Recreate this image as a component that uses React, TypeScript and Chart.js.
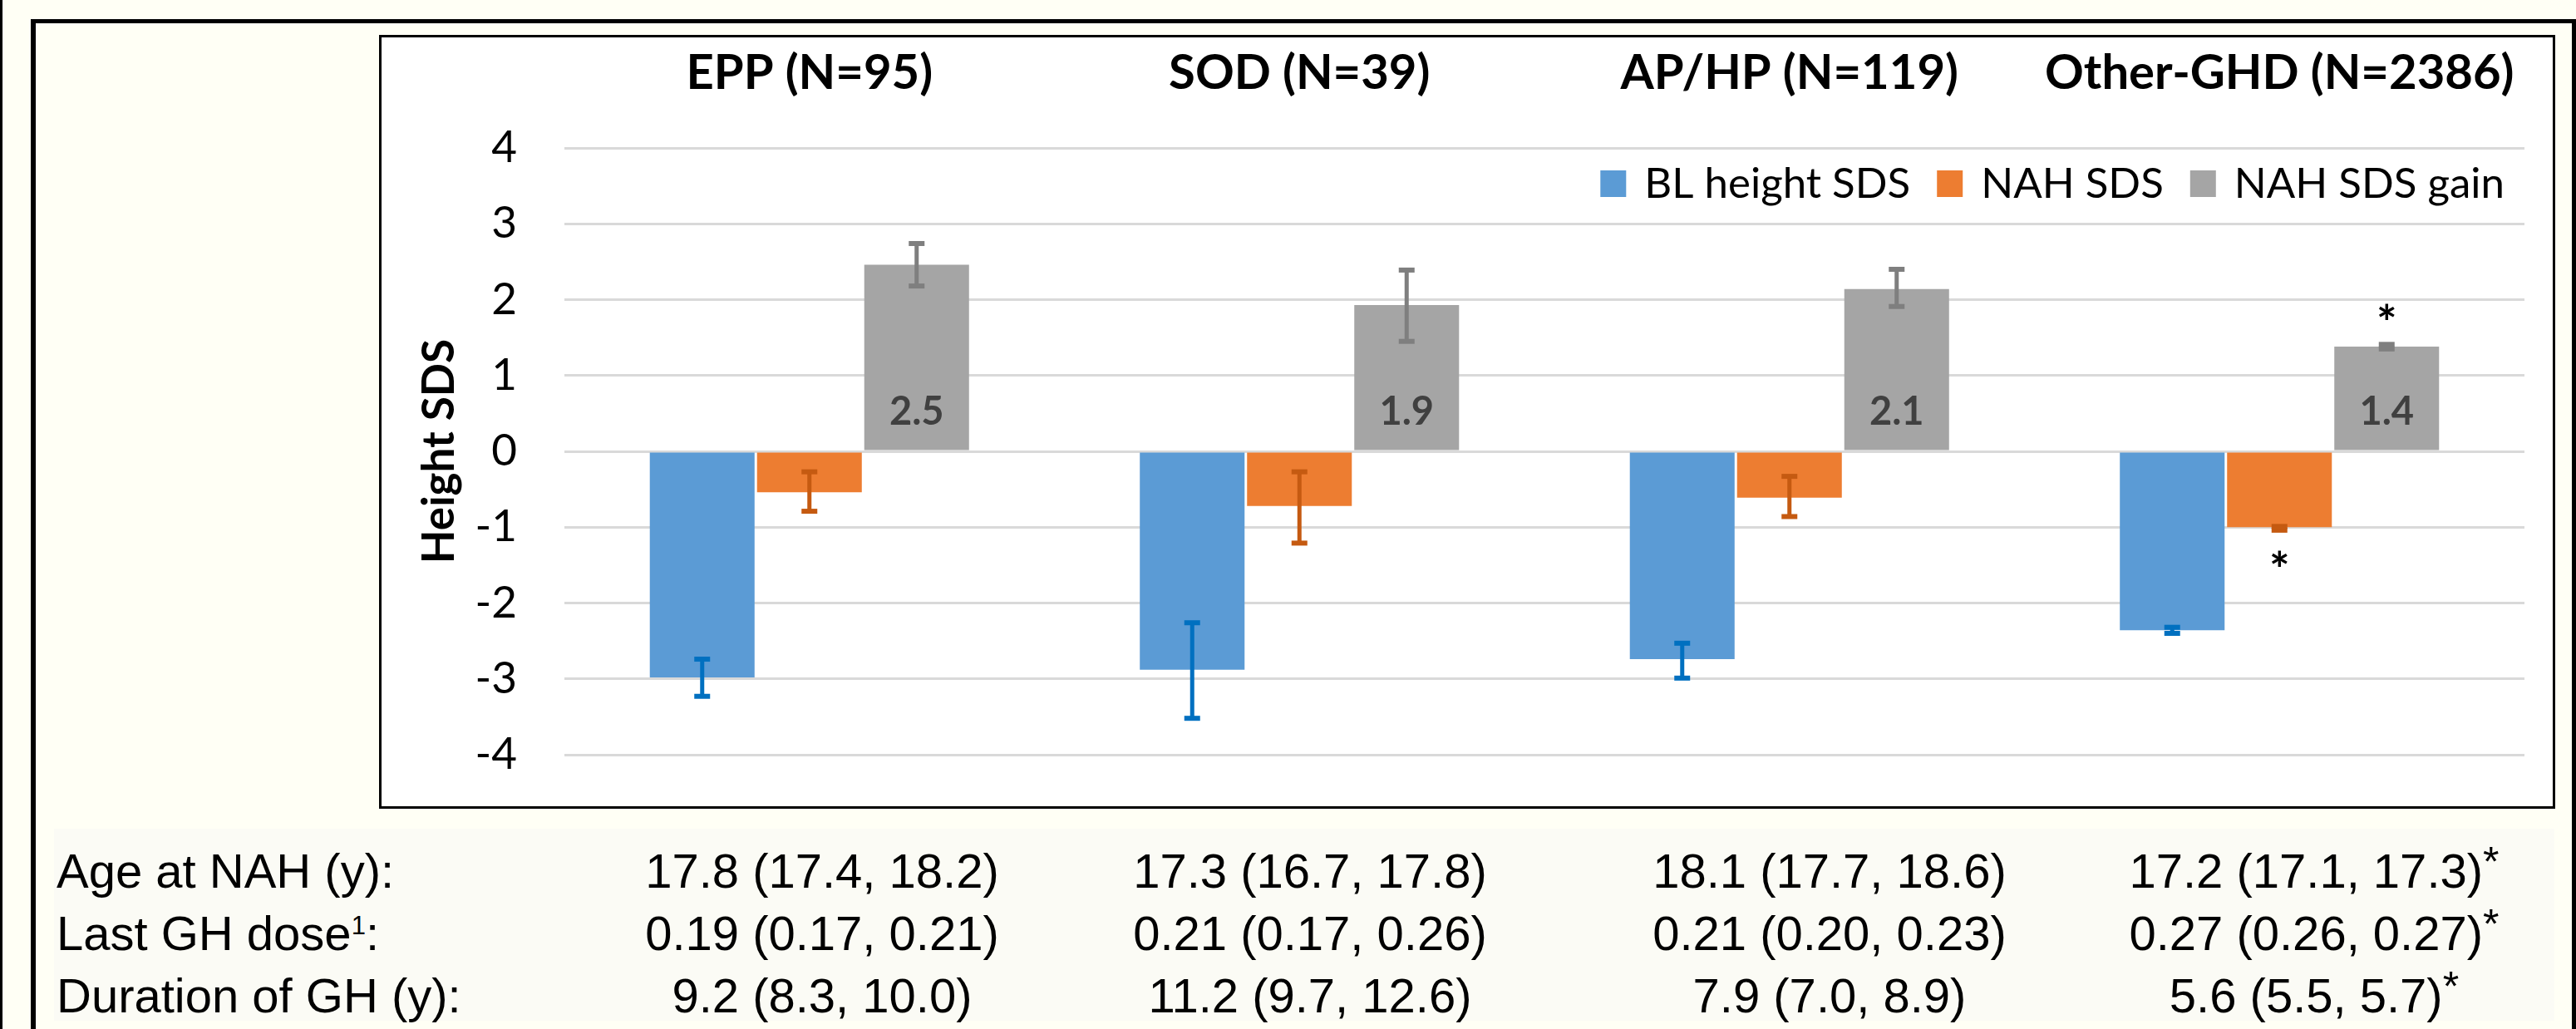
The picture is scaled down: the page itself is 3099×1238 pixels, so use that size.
import React, { useEffect, useRef } from 'react';
import { Chart, registerables } from 'chart.js';

Chart.register(...registerables);

// ---------- data ----------
const categories = ['EPP (N=95)', 'SOD (N=39)', 'AP/HP (N=119)', 'Other-GHD (N=2386)'];

const seriesLabels = ['BL height SDS', 'NAH SDS', 'NAH SDS gain'];

const blValues = [-2.98, -2.88, -2.74, -2.36];
const blLow = [-3.23, -3.52, -2.99, -2.40];
const blHigh = [-2.74, -2.26, -2.53, -2.32];

const nahValues = [-0.54, -0.72, -0.61, -1.0];
const nahLow = [-0.79, -1.21, -0.86, -1.04];
const nahHigh = [-0.27, -0.27, -0.33, -0.99];

const gainValues = [2.46, 1.93, 2.14, 1.38];
const gainLow = [2.18, 1.45, 1.91, 1.35];
const gainHigh = [2.74, 2.39, 2.4, 1.41];
const gainLabels = ['2.5', '1.9', '2.1', '1.4'];

// significance markers: dataset index, category index, side
const sigDataset = [2, 1];
const sigIndex = [3, 3];
const sigSide = ['above', 'below'];

const yTicksMin = -4;
const yTicksMax = 4;
const yTickStep = 1;

const tableRowLabels = ['Age at NAH (y)', 'Last GH dose', 'Duration of GH (y)'];
const tableRowSup = ['', '1', ''];
const ageValues = ['17.8 (17.4, 18.2)', '17.3 (16.7, 17.8)', '18.1 (17.7, 18.6)', '17.2 (17.1, 17.3)'];
const doseValues = ['0.19 (0.17, 0.21)', '0.21 (0.17, 0.26)', '0.21 (0.20, 0.23)', '0.27 (0.26, 0.27)'];
const durationValues = ['9.2 (8.3, 10.0)', '11.2 (9.7, 12.6)', '7.9 (7.0, 8.9)', '5.6 (5.5, 5.7)'];
const tableSignificant = [false, false, false, true];

// ---------- styles ----------
const barColors = ['#5B9BD5', '#ED7D31', '#A5A5A5'];
const errColors = ['#0070C0', '#C55A11', '#7F7F7F'];
const CREAM = '#FFFFF5';
const LATO = 'Lato, "Open Sans", sans-serif';

const errLows = [blLow, nahLow, gainLow];
const errHighs = [blHigh, nahHigh, gainHigh];

const titlePlugin = {
  id: 'groupTitles',
  afterDraw(chart: any) {
    const ctx = chart.ctx;
    const xs = chart.scales.x;
    ctx.save();
    ctx.font = `bold 58px ${LATO}`;
    ctx.fillStyle = '#000';
    ctx.textAlign = 'center';
    ctx.textBaseline = 'alphabetic';
    categories.forEach((c, i) => {
      ctx.fillText(c, xs.getPixelForValue(i), chart.chartArea.top - 71);
    });
    ctx.restore();
  },
};

const legendPlugin = {
  id: 'customLegend',
  afterDraw(chart: any) {
    const ctx = chart.ctx;
    const area = chart.chartArea;
    ctx.save();
    ctx.font = `51px ${LATO}`;
    ctx.textBaseline = 'alphabetic';
    ctx.textAlign = 'left';
    let xEnd = area.right - 24;
    const baseline = area.top + 60;
    const boxTop = area.top + 27;
    const dsets = [...chart.data.datasets].reverse();
    for (const ds of dsets) {
      const w = ctx.measureText(ds.label).width;
      const tx = xEnd - w;
      ctx.fillStyle = '#000';
      ctx.fillText(ds.label, tx, baseline);
      const bx = tx - 22 - 31;
      ctx.fillStyle = ds.backgroundColor;
      ctx.fillRect(bx, boxTop, 31, 32);
      xEnd = bx - 32;
    }
    ctx.restore();
  },
};

const errorBarPlugin = {
  id: 'errorBars',
  afterDatasetsDraw(chart: any) {
    const ctx = chart.ctx;
    const ys = chart.scales.y;
    ctx.save();
    chart.data.datasets.forEach((ds: any, di: number) => {
      const meta = chart.getDatasetMeta(di);
      meta.data.forEach((bar: any, i: number) => {
        const x = bar.x;
        const yLo = ys.getPixelForValue(errLows[di][i]);
        const yHi = ys.getPixelForValue(errHighs[di][i]);
        ctx.strokeStyle = errColors[di];
        ctx.fillStyle = errColors[di];
        ctx.lineWidth = 5;
        ctx.beginPath();
        ctx.moveTo(x, yLo);
        ctx.lineTo(x, yHi);
        ctx.stroke();
        ctx.fillRect(x - 9.5, yLo - 3, 19, 6);
        ctx.fillRect(x - 9.5, yHi - 3, 19, 6);
      });
    });
    ctx.restore();
  },
};

const labelPlugin = {
  id: 'gainLabels',
  afterDatasetsDraw(chart: any) {
    const ctx = chart.ctx;
    const ys = chart.scales.y;
    const zero = ys.getPixelForValue(0);
    const meta = chart.getDatasetMeta(2);
    ctx.save();
    ctx.font = `bold 47px ${LATO}`;
    ctx.fillStyle = '#404040';
    ctx.textAlign = 'center';
    ctx.textBaseline = 'alphabetic';
    meta.data.forEach((bar: any, i: number) => {
      ctx.fillText(gainLabels[i], bar.x, zero - 32);
    });
    // significance asterisks
    ctx.font = `bold 58px ${LATO}`;
    ctx.fillStyle = '#000';
    sigDataset.forEach((di, k) => {
      const idx = sigIndex[k];
      const bar = chart.getDatasetMeta(di).data[idx];
      if (sigSide[k] === 'above') {
        const y = ys.getPixelForValue(errHighs[di][idx]);
        ctx.fillText('*', bar.x, y - 5);
      } else {
        const y = ys.getPixelForValue(errLows[di][idx]);
        ctx.fillText('*', bar.x, y + 68);
      }
    });
    ctx.restore();
  },
};

function ChartCanvas() {
  const ref = useRef<HTMLCanvasElement | null>(null);
  useEffect(() => {
    if (!ref.current) return;
    const chart = new Chart(ref.current, {
      type: 'bar',
      data: {
        labels: categories,
        datasets: [
          { label: seriesLabels[0], data: blValues, backgroundColor: barColors[0] },
          { label: seriesLabels[1], data: nahValues, backgroundColor: barColors[1] },
          { label: seriesLabels[2], data: gainValues, backgroundColor: barColors[2] },
        ],
      },
      options: {
        animation: false,
        responsive: false,
        maintainAspectRatio: false,
        devicePixelRatio: 1,
        layout: { padding: { left: 0, right: 34, top: 133, bottom: 62 } },
        datasets: {
          bar: { categoryPercentage: 0.6565, barPercentage: 0.977, borderWidth: 0 },
        },
        plugins: {
          legend: { display: false },
          tooltip: { enabled: false },
          title: { display: false },
        },
        scales: {
          x: { display: false, offset: true },
          y: {
            min: yTicksMin,
            max: yTicksMax,
            ticks: {
              stepSize: yTickStep,
              font: { family: LATO, size: 53 },
              color: '#000',
              padding: 10,
            },
            grid: {
              color: '#D9D9D9',
              lineWidth: 3,
              drawTicks: true,
              tickLength: 47,
              tickColor: 'rgba(0,0,0,0)',
            },
            border: { display: false },
            title: {
              display: true,
              text: 'Height SDS',
              font: { family: LATO, size: 53, weight: 'bold' },
              color: '#000',
              padding: { top: 38, bottom: 0 },
            },
            afterFit(scale: any) {
              scale.width = 220;
            },
          },
        },
      } as any,
      plugins: [titlePlugin, legendPlugin, errorBarPlugin, labelPlugin],
    });
    let alive = true;
    if ((document as any).fonts && (document as any).fonts.ready) {
      (document as any).fonts.ready.then(() => {
        if (alive) chart.update();
      });
    }
    return () => {
      alive = false;
      chart.destroy();
    };
  }, []);
  return (
    <canvas
      ref={ref}
      width={2612}
      height={925}
      style={{ position: 'absolute', left: 459, top: 45, width: 2612, height: 925, display: 'block' }}
    />
  );
}

const colCenters = [989, 1576, 2201, 2784];
const rowTops = [1010, 1085, 1160];

export default function App() {
  useEffect(() => {
    document.body.style.margin = '0';
  }, []);
  const rows = [ageValues, doseValues, durationValues];
  const textStyle: React.CSSProperties = {
    position: 'absolute',
    fontFamily: '"Liberation Sans", Arial, sans-serif',
    fontSize: 58,
    lineHeight: '75px',
    color: '#000',
    whiteSpace: 'nowrap',
  };
  return (
    <div
      style={{
        position: 'absolute',
        left: 0,
        top: 0,
        width: 3099,
        height: 1238,
        overflow: 'hidden',
        background: CREAM,
      }}
    >
      {/* far-left rule */}
      <div style={{ position: 'absolute', left: 0, top: 0, width: 3, height: 1238, background: '#000' }} />
      {/* outer frame */}
      <div
        style={{
          position: 'absolute',
          left: 37,
          top: 23,
          width: 3099 - 37,
          height: 1400,
          boxSizing: 'border-box',
          borderLeft: '6px solid #000',
          borderTop: '5px solid #000',
          borderRight: '5px solid #000',
        }}
      />
      {/* table band */}
      <div style={{ position: 'absolute', left: 65, top: 997, width: 3073 - 65, height: 231, background: '#FBFBF5' }} />
      {/* inner chart box */}
      <div
        style={{
          position: 'absolute',
          left: 456,
          top: 42,
          width: 2618,
          height: 931,
          boxSizing: 'border-box',
          border: '3px solid #000',
          background: '#FFFFFF',
        }}
      />
      <ChartCanvas />
      {/* table */}
      {tableRowLabels.map((lab, r) => (
        <div key={'l' + r} style={{ ...textStyle, left: 68, top: rowTops[r] }}>
          {lab}
          {tableRowSup[r] ? (
            <span style={{ fontSize: 31, verticalAlign: '19px', lineHeight: 0 }}>{tableRowSup[r]}</span>
          ) : null}
          :
        </div>
      ))}
      {rows.map((vals, r) =>
        vals.map((v, c) => (
          <div
            key={'v' + r + '-' + c}
            style={{ ...textStyle, left: colCenters[c] - 300, width: 600, textAlign: 'center', top: rowTops[r] }}
          >
            {v}
            {tableSignificant[c] ? (
              <span style={{ fontSize: 50, verticalAlign: '14px', lineHeight: 0 }}>*</span>
            ) : null}
          </div>
        ))
      )}
    </div>
  );
}
